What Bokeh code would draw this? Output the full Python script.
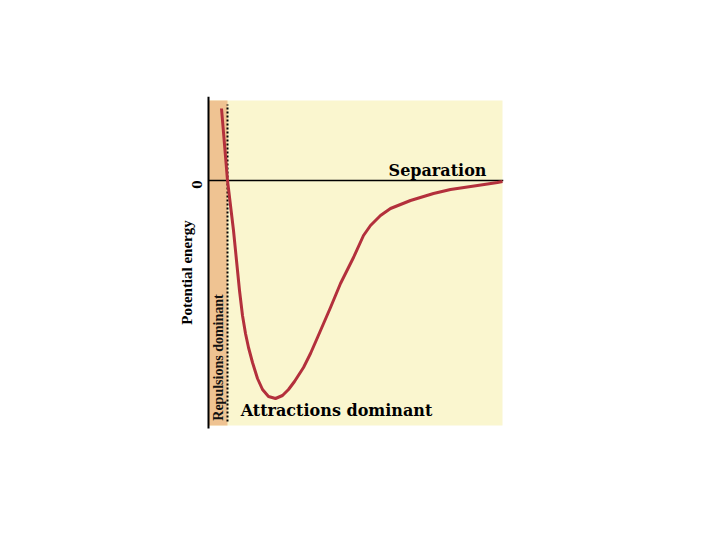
import math
from bokeh.plotting import figure
from bokeh.models import LinearAxis, FixedTicker, Range1d
from bokeh.core.properties import value
from bokeh.embed import file_html
from bokeh.resources import INLINE

# Curve: separation (arbitrary units) vs potential energy (arbitrary units)
separation = [13, 16, 19, 22, 25, 28, 31, 34, 37, 40, 44, 49, 54, 60, 67, 74, 80,
              86, 95, 102, 109, 122, 132, 145, 155, 162, 172, 182, 202, 225, 242,
              269, 289, 294]
energy = [72, 36, 0, -25, -50, -80, -110, -135, -153, -167, -182, -198, -209, -216,
          -218, -215, -209, -201, -187, -173, -157, -127, -103, -77, -55, -45, -35,
          -28, -20, -13, -9, -5, -2, -1]

# Regions
panel_left, panel_right = 0, 294
panel_bottom, panel_top = -245, 80
repulsion_edge = 19
axis_bottom, axis_top = -248, 84

x_label = "Separation"
y_label = "Potential energy"
repulsion_label = "Repulsions dominant"
attraction_label = "Attractions dominant"

p = figure(width=700, height=520, output_backend="svg", toolbar_location=None,
           x_axis_type=None, y_axis_type=None,
           x_range=Range1d(-3, 295), y_range=Range1d(-268, 84),
           min_border_left=205, min_border_right=197,
           min_border_top=96, min_border_bottom=72)
p.outline_line_color = None
p.grid.visible = False
p.background_fill_color = "white"
p.border_fill_color = "white"

# panels
p.quad(left=[panel_left], right=[panel_right], bottom=[panel_bottom], top=[panel_top],
       fill_color="#FAF6CF", line_color=None)
p.quad(left=[panel_left], right=[repulsion_edge], bottom=[panel_bottom], top=[panel_top],
       fill_color="#EFC392", line_color=None)

# dotted boundary
p.segment(x0=[repulsion_edge], y0=[panel_bottom + 4], x1=[repulsion_edge], y1=[panel_top - 4],
          line_color="black", line_width=2, line_dash="2 2")

# vertical axis line and zero line
p.segment(x0=[0], y0=[axis_bottom], x1=[0], y1=[axis_top], line_color="black", line_width=2)
p.segment(x0=[0], y0=[0], x1=[295], y1=[0], line_color="black", line_width=1.3)

# curve
p.line(separation, energy, line_color="#B3303C", line_width=3, line_join="round")

# texts
p.text(x=[229], y=[1], text=[x_label], text_font=value("DejaVu Serif"),
       text_font_style="bold", text_font_size="16px", text_align="center",
       text_baseline="bottom", text_color="black")
p.text(x=[128], y=[-230], text=[attraction_label], text_font=value("DejaVu Serif"),
       text_font_style="bold", text_font_size="16px", text_align="center",
       text_baseline="middle", text_color="black")
p.text(x=[10], y=[-177], text=[repulsion_label], text_font=value("Liberation Serif"),
       text_font_style="bold", text_font_size="14px", text_align="center",
       text_baseline="middle", angle=math.pi / 2, text_color="#111111")

# left axis with the zero tick and the axis title
ax = LinearAxis(ticker=FixedTicker(ticks=[0]), axis_label=y_label)
ax.major_label_overrides = {0: "0"}
ax.major_tick_in = 0
ax.major_tick_out = 0
ax.minor_tick_in = 0
ax.minor_tick_out = 0
ax.axis_line_color = None
ax.major_label_orientation = math.pi / 2
ax.major_label_standoff = 9
ax.major_label_text_font = "DejaVu Serif"
ax.major_label_text_font_style = "bold"
ax.major_label_text_font_size = "12px"
ax.major_label_text_color = "black"
ax.axis_label_standoff = -11
ax.axis_label_text_font = "Liberation Serif"
ax.axis_label_text_font_style = "bold"
ax.axis_label_text_font_size = "15px"
ax.axis_label_text_color = "black"
p.add_layout(ax, "left")

open("out.html", "w").write(file_html(p, INLINE))
